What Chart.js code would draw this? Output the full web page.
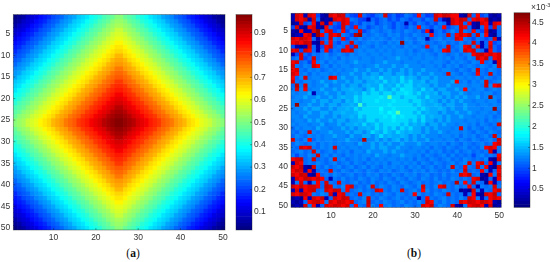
<!DOCTYPE html>
<html>
<head>
<meta charset="utf-8">
<title>Heat maps</title>
<script src="https://cdn.jsdelivr.net/npm/chart.js@4"></script>
<style>
    html, body { margin: 0; padding: 0; background: #fff; }
    body { position: relative; width: 550px; height: 262px; overflow: hidden; }
    canvas { position: absolute; }
    canvas.blurred { filter: blur(0.5px); }
    .caption { position: absolute; top: 247px; font: 11.5px "Liberation Serif", serif; color: #111; transform: translateX(-50%); }
    .exponent { position: absolute; left: 531px; top: 2px; font: 8.5px "Liberation Sans", sans-serif; color: #333; }
    .exponent sup { font-size: 5.5px; vertical-align: 3px; line-height: 0; }
</style>
</head>
<body>
<canvas id="mapA" class="blurred" width="232" height="245" style="left:0;top:0"></canvas>
<canvas id="barA" class="blurred" width="40" height="245" style="left:232px;top:0"></canvas>
<canvas id="mapB" class="blurred" width="232" height="225" style="left:275px;top:0"></canvas>
<canvas id="barB" class="blurred" width="40" height="225" style="left:510px;top:0"></canvas>
<div class="caption" style="left:133px">(<b>a</b>)</div>
<div class="caption" style="left:414px">(<b>b</b>)</div>
<div class="exponent">×10<sup>-3</sup></div>
<script>
const columns = [1,2,3,4,5,6,7,8,9,10, 11,12,13,14,15,16,17,18,19,20, 21,22,23,24,25,26,27,28,29,30, 31,32,33,34,35,36,37,38,39,40, 41,42,43,44,45,46,47,48,49,50];
const rows = columns;

const xTicks = [10, 20, 30, 40, 50];
const yTicks = [5, 10, 15, 20, 25, 30, 35, 40, 45, 50];
const barTicksA = [0.1, 0.2, 0.3, 0.4, 0.5, 0.6, 0.7, 0.8, 0.9];
const barTicksB = [0.5, 1, 1.5, 2, 2.5, 3, 3.5, 4, 4.5];
const rangeA = [0.02, 0.98];
const rangeB = [0.06, 4.73];

// panel a, hundredths
const gridA = [
[2,4,6,8,10,12,14,16,18,20,22,24,26,28,30,32,34,36,38,40,42,44,46,48,50,50,48,46,44,42,40,38,36,34,32,30,28,26,24,22,20,18,16,14,12,10,8,6,4,2],
[4,6,8,10,12,14,16,18,20,22,24,26,28,30,32,34,36,38,40,42,44,46,48,50,52,52,50,48,46,44,42,40,38,36,34,32,30,28,26,24,22,20,18,16,14,12,10,8,6,4],
[6,8,10,12,14,16,18,20,22,24,26,28,30,32,34,36,38,40,42,44,46,48,50,52,54,54,52,50,48,46,44,42,40,38,36,34,32,30,28,26,24,22,20,18,16,14,12,10,8,6],
[8,10,12,14,16,18,20,22,24,26,28,30,32,34,36,38,40,42,44,46,48,50,52,54,56,56,54,52,50,48,46,44,42,40,38,36,34,32,30,28,26,24,22,20,18,16,14,12,10,8],
[10,12,14,16,18,20,22,24,26,28,30,32,34,36,38,40,42,44,46,48,50,52,54,56,58,58,56,54,52,50,48,46,44,42,40,38,36,34,32,30,28,26,24,22,20,18,16,14,12,10],
[12,14,16,18,20,22,24,26,28,30,32,34,36,38,40,42,44,46,48,50,52,54,56,58,60,60,58,56,54,52,50,48,46,44,42,40,38,36,34,32,30,28,26,24,22,20,18,16,14,12],
[14,16,18,20,22,24,26,28,30,32,34,36,38,40,42,44,46,48,50,52,54,56,58,60,62,62,60,58,56,54,52,50,48,46,44,42,40,38,36,34,32,30,28,26,24,22,20,18,16,14],
[16,18,20,22,24,26,28,30,32,34,36,38,40,42,44,46,48,50,52,54,56,58,60,62,64,64,62,60,58,56,54,52,50,48,46,44,42,40,38,36,34,32,30,28,26,24,22,20,18,16],
[18,20,22,24,26,28,30,32,34,36,38,40,42,44,46,48,50,52,54,56,58,60,62,64,66,66,64,62,60,58,56,54,52,50,48,46,44,42,40,38,36,34,32,30,28,26,24,22,20,18],
[20,22,24,26,28,30,32,34,36,38,40,42,44,46,48,50,52,54,56,58,60,62,64,66,68,68,66,64,62,60,58,56,54,52,50,48,46,44,42,40,38,36,34,32,30,28,26,24,22,20],
[22,24,26,28,30,32,34,36,38,40,42,44,46,48,50,52,54,56,58,60,62,64,66,68,70,70,68,66,64,62,60,58,56,54,52,50,48,46,44,42,40,38,36,34,32,30,28,26,24,22],
[24,26,28,30,32,34,36,38,40,42,44,46,48,50,52,54,56,58,60,62,64,66,68,70,72,72,70,68,66,64,62,60,58,56,54,52,50,48,46,44,42,40,38,36,34,32,30,28,26,24],
[26,28,30,32,34,36,38,40,42,44,46,48,50,52,54,56,58,60,62,64,66,68,70,72,74,74,72,70,68,66,64,62,60,58,56,54,52,50,48,46,44,42,40,38,36,34,32,30,28,26],
[28,30,32,34,36,38,40,42,44,46,48,50,52,54,56,58,60,62,64,66,68,70,72,74,76,76,74,72,70,68,66,64,62,60,58,56,54,52,50,48,46,44,42,40,38,36,34,32,30,28],
[30,32,34,36,38,40,42,44,46,48,50,52,54,56,58,60,62,64,66,68,70,72,74,76,78,78,76,74,72,70,68,66,64,62,60,58,56,54,52,50,48,46,44,42,40,38,36,34,32,30],
[32,34,36,38,40,42,44,46,48,50,52,54,56,58,60,62,64,66,68,70,72,74,76,78,80,80,78,76,74,72,70,68,66,64,62,60,58,56,54,52,50,48,46,44,42,40,38,36,34,32],
[34,36,38,40,42,44,46,48,50,52,54,56,58,60,62,64,66,68,70,72,74,76,78,80,82,82,80,78,76,74,72,70,68,66,64,62,60,58,56,54,52,50,48,46,44,42,40,38,36,34],
[36,38,40,42,44,46,48,50,52,54,56,58,60,62,64,66,68,70,72,74,76,78,80,82,84,84,82,80,78,76,74,72,70,68,66,64,62,60,58,56,54,52,50,48,46,44,42,40,38,36],
[38,40,42,44,46,48,50,52,54,56,58,60,62,64,66,68,70,72,74,76,78,80,82,84,86,86,84,82,80,78,76,74,72,70,68,66,64,62,60,58,56,54,52,50,48,46,44,42,40,38],
[40,42,44,46,48,50,52,54,56,58,60,62,64,66,68,70,72,74,76,78,80,82,84,86,88,88,86,84,82,80,78,76,74,72,70,68,66,64,62,60,58,56,54,52,50,48,46,44,42,40],
[42,44,46,48,50,52,54,56,58,60,62,64,66,68,70,72,74,76,78,80,82,84,86,88,90,90,88,86,84,82,80,78,76,74,72,70,68,66,64,62,60,58,56,54,52,50,48,46,44,42],
[44,46,48,50,52,54,56,58,60,62,64,66,68,70,72,74,76,78,80,82,84,86,88,90,92,92,90,88,86,84,82,80,78,76,74,72,70,68,66,64,62,60,58,56,54,52,50,48,46,44],
[46,48,50,52,54,56,58,60,62,64,66,68,70,72,74,76,78,80,82,84,86,88,90,92,94,94,92,90,88,86,84,82,80,78,76,74,72,70,68,66,64,62,60,58,56,54,52,50,48,46],
[48,50,52,54,56,58,60,62,64,66,68,70,72,74,76,78,80,82,84,86,88,90,92,94,96,96,94,92,90,88,86,84,82,80,78,76,74,72,70,68,66,64,62,60,58,56,54,52,50,48],
[50,52,54,56,58,60,62,64,66,68,70,72,74,76,78,80,82,84,86,88,90,92,94,96,98,98,96,94,92,90,88,86,84,82,80,78,76,74,72,70,68,66,64,62,60,58,56,54,52,50],
[50,52,54,56,58,60,62,64,66,68,70,72,74,76,78,80,82,84,86,88,90,92,94,96,98,98,96,94,92,90,88,86,84,82,80,78,76,74,72,70,68,66,64,62,60,58,56,54,52,50],
[48,50,52,54,56,58,60,62,64,66,68,70,72,74,76,78,80,82,84,86,88,90,92,94,96,96,94,92,90,88,86,84,82,80,78,76,74,72,70,68,66,64,62,60,58,56,54,52,50,48],
[46,48,50,52,54,56,58,60,62,64,66,68,70,72,74,76,78,80,82,84,86,88,90,92,94,94,92,90,88,86,84,82,80,78,76,74,72,70,68,66,64,62,60,58,56,54,52,50,48,46],
[44,46,48,50,52,54,56,58,60,62,64,66,68,70,72,74,76,78,80,82,84,86,88,90,92,92,90,88,86,84,82,80,78,76,74,72,70,68,66,64,62,60,58,56,54,52,50,48,46,44],
[42,44,46,48,50,52,54,56,58,60,62,64,66,68,70,72,74,76,78,80,82,84,86,88,90,90,88,86,84,82,80,78,76,74,72,70,68,66,64,62,60,58,56,54,52,50,48,46,44,42],
[40,42,44,46,48,50,52,54,56,58,60,62,64,66,68,70,72,74,76,78,80,82,84,86,88,88,86,84,82,80,78,76,74,72,70,68,66,64,62,60,58,56,54,52,50,48,46,44,42,40],
[38,40,42,44,46,48,50,52,54,56,58,60,62,64,66,68,70,72,74,76,78,80,82,84,86,86,84,82,80,78,76,74,72,70,68,66,64,62,60,58,56,54,52,50,48,46,44,42,40,38],
[36,38,40,42,44,46,48,50,52,54,56,58,60,62,64,66,68,70,72,74,76,78,80,82,84,84,82,80,78,76,74,72,70,68,66,64,62,60,58,56,54,52,50,48,46,44,42,40,38,36],
[34,36,38,40,42,44,46,48,50,52,54,56,58,60,62,64,66,68,70,72,74,76,78,80,82,82,80,78,76,74,72,70,68,66,64,62,60,58,56,54,52,50,48,46,44,42,40,38,36,34],
[32,34,36,38,40,42,44,46,48,50,52,54,56,58,60,62,64,66,68,70,72,74,76,78,80,80,78,76,74,72,70,68,66,64,62,60,58,56,54,52,50,48,46,44,42,40,38,36,34,32],
[30,32,34,36,38,40,42,44,46,48,50,52,54,56,58,60,62,64,66,68,70,72,74,76,78,78,76,74,72,70,68,66,64,62,60,58,56,54,52,50,48,46,44,42,40,38,36,34,32,30],
[28,30,32,34,36,38,40,42,44,46,48,50,52,54,56,58,60,62,64,66,68,70,72,74,76,76,74,72,70,68,66,64,62,60,58,56,54,52,50,48,46,44,42,40,38,36,34,32,30,28],
[26,28,30,32,34,36,38,40,42,44,46,48,50,52,54,56,58,60,62,64,66,68,70,72,74,74,72,70,68,66,64,62,60,58,56,54,52,50,48,46,44,42,40,38,36,34,32,30,28,26],
[24,26,28,30,32,34,36,38,40,42,44,46,48,50,52,54,56,58,60,62,64,66,68,70,72,72,70,68,66,64,62,60,58,56,54,52,50,48,46,44,42,40,38,36,34,32,30,28,26,24],
[22,24,26,28,30,32,34,36,38,40,42,44,46,48,50,52,54,56,58,60,62,64,66,68,70,70,68,66,64,62,60,58,56,54,52,50,48,46,44,42,40,38,36,34,32,30,28,26,24,22],
[20,22,24,26,28,30,32,34,36,38,40,42,44,46,48,50,52,54,56,58,60,62,64,66,68,68,66,64,62,60,58,56,54,52,50,48,46,44,42,40,38,36,34,32,30,28,26,24,22,20],
[18,20,22,24,26,28,30,32,34,36,38,40,42,44,46,48,50,52,54,56,58,60,62,64,66,66,64,62,60,58,56,54,52,50,48,46,44,42,40,38,36,34,32,30,28,26,24,22,20,18],
[16,18,20,22,24,26,28,30,32,34,36,38,40,42,44,46,48,50,52,54,56,58,60,62,64,64,62,60,58,56,54,52,50,48,46,44,42,40,38,36,34,32,30,28,26,24,22,20,18,16],
[14,16,18,20,22,24,26,28,30,32,34,36,38,40,42,44,46,48,50,52,54,56,58,60,62,62,60,58,56,54,52,50,48,46,44,42,40,38,36,34,32,30,28,26,24,22,20,18,16,14],
[12,14,16,18,20,22,24,26,28,30,32,34,36,38,40,42,44,46,48,50,52,54,56,58,60,60,58,56,54,52,50,48,46,44,42,40,38,36,34,32,30,28,26,24,22,20,18,16,14,12],
[10,12,14,16,18,20,22,24,26,28,30,32,34,36,38,40,42,44,46,48,50,52,54,56,58,58,56,54,52,50,48,46,44,42,40,38,36,34,32,30,28,26,24,22,20,18,16,14,12,10],
[8,10,12,14,16,18,20,22,24,26,28,30,32,34,36,38,40,42,44,46,48,50,52,54,56,56,54,52,50,48,46,44,42,40,38,36,34,32,30,28,26,24,22,20,18,16,14,12,10,8],
[6,8,10,12,14,16,18,20,22,24,26,28,30,32,34,36,38,40,42,44,46,48,50,52,54,54,52,50,48,46,44,42,40,38,36,34,32,30,28,26,24,22,20,18,16,14,12,10,8,6],
[4,6,8,10,12,14,16,18,20,22,24,26,28,30,32,34,36,38,40,42,44,46,48,50,52,52,50,48,46,44,42,40,38,36,34,32,30,28,26,24,22,20,18,16,14,12,10,8,6,4],
[2,4,6,8,10,12,14,16,18,20,22,24,26,28,30,32,34,36,38,40,42,44,46,48,50,50,48,46,44,42,40,38,36,34,32,30,28,26,24,22,20,18,16,14,12,10,8,6,4,2]
];

// panel b, tenths of 1e-3
const gridB = [
[3,43,42,3,43,42,10,3,2,43, 42,44,43,11,10,9,43,11,10,9, 11,12,43,10,11,9,10,12,11,10, 42,11,9,10,43,42,44,43,42,42, 3,2,43,11,42,10,11,3,2,3],
[3,43,42,44,3,43,11,2,3,2, 43,42,43,42,12,11,10,9,3,11, 10,11,12,10,11,10,12,11,10,11, 11,10,12,11,43,10,3,2,43,42, 44,43,11,42,43,42,44,2,3,2],
[2,3,43,10,11,42,3,43,3,42, 11,10,43,42,10,11,10,12,11,12, 10,11,12,11,10,12,11,3,11,10, 12,11,10,11,10,12,11,3,43,42, 43,11,42,3,2,43,42,3,43,42],
[10,43,3,2,42,43,3,2,42,11, 10,9,43,11,10,42,11,12,10,11, 12,11,13,11,10,12,11,10,12,11, 42,12,11,10,12,11,42,10,11,12, 43,42,11,3,2,11,42,10,43,11],
[3,2,42,3,4,43,46,11,42,43, 10,11,42,10,12,11,43,10,11,13, 12,11,12,13,11,12,11,13,12,11, 12,10,42,3,11,12,10,11,13,11, 43,12,11,42,11,10,43,2,3,11],
[2,3,4,42,43,3,46,42,11,43, 42,44,12,11,10,45,46,12,11,12, 13,12,11,13,12,13,11,12,11,13, 12,11,12,42,11,12,11,43,11,42, 43,42,44,11,43,12,42,3,2,11],
[43,42,44,43,42,11,3,10,11,43, 12,11,42,10,12,11,13,11,12,13, 12,13,12,11,13,12,11,13,12,11, 13,12,3,11,12,13,11,12,11,43, 42,12,11,10,12,11,10,11,43,3],
[42,43,42,44,43,3,2,43,11,42, 11,10,12,11,43,12,11,12,13,12, 13,12,11,13,12,13,46,12,13,11, 12,13,11,12,11,12,13,11,12,11, 13,11,12,43,11,3,11,42,10,11],
[10,3,2,3,43,11,3,10,42,43, 11,12,11,42,10,43,12,13,12,11, 13,12,13,12,13,12,11,13,12,13, 12,11,42,12,13,11,12,43,11,12, 13,42,43,12,42,3,11,43,11,10],
[42,43,10,43,42,11,3,11,42,10, 12,11,43,42,44,12,13,12,13,13, 12,13,12,13,12,13,13,12,13,11, 12,13,12,11,13,12,42,43,12,11, 13,43,42,43,12,11,3,42,11,10],
[3,10,43,11,10,12,11,12,13,11, 12,13,12,11,13,12,13,13,12,13, 13,12,13,13,12,13,13,12,13,12, 13,12,13,12,11,13,12,11,12,13, 11,12,13,42,43,44,42,43,42,43],
[11,12,43,10,11,43,11,12,13,12, 13,11,13,12,13,13,12,13,13,12, 13,13,12,13,13,14,13,13,12,13, 13,12,13,13,12,13,12,13,11,13, 12,11,13,12,43,42,44,11,42,43],
[42,43,11,12,10,42,12,13,11,13, 12,13,13,12,13,14,13,13,13,12, 13,13,14,13,13,13,12,13,13,13, 12,13,13,12,13,13,12,11,13,12, 13,12,11,13,12,42,11,12,3,43],
[43,12,11,13,12,43,42,12,13,11, 13,12,13,13,12,13,13,12,13,13, 14,13,13,13,14,13,13,14,13,13, 13,12,13,13,12,13,11,13,12,13, 11,12,13,12,11,13,12,11,13,43],
[42,43,12,11,13,12,13,11,12,13, 12,13,12,13,13,14,13,13,14,13, 13,14,13,14,13,13,14,13,14,13, 13,14,13,13,13,12,13,13,12,11, 13,12,11,13,43,12,11,13,12,11],
[43,42,12,13,11,13,12,13,13,12, 13,12,13,13,14,13,13,14,13,14, 14,13,14,14,13,14,14,13,14,13, 14,13,13,14,13,13,12,43,13,12, 11,13,12,11,42,12,11,43,12,11],
[42,11,13,43,12,13,13,12,13,43, 42,13,14,13,13,14,13,14,14,15, 14,16,14,14,15,14,16,14,15,14, 13,14,14,13,14,13,13,13,12,13, 13,12,13,12,13,11,13,12,11,12],
[43,12,11,13,13,12,13,14,13,13, 14,13,13,14,13,14,14,13,14,14, 15,14,16,14,15,14,16,15,16,14, 14,15,13,14,14,13,13,13,14,42, 12,13,11,13,12,13,43,11,12,13],
[11,45,12,43,13,12,13,13,14,12, 13,13,14,13,14,14,13,14,15,14, 14,16,14,15,14,16,15,16,16,14, 15,14,14,13,14,13,13,14,13,13, 13,13,12,13,13,12,43,13,42,43],
[12,43,13,42,12,13,13,14,13,13, 14,13,14,14,15,14,14,13,15,16, 14,16,15,14,16,15,17,16,16,15, 14,16,14,15,13,14,14,13,13,14, 13,42,13,12,13,13,11,12,13,12],
[13,12,13,13,14,3,13,13,14,13, 13,14,13,14,14,15,14,16,15,16, 16,15,16,16,15,16,16,17,16,15, 16,14,15,14,15,13,14,14,13,13, 14,13,12,13,13,12,13,13,11,12],
[12,13,13,14,13,13,14,13,13,14, 13,14,15,14,14,16,15,16,16,16, 16,17,16,22,16,16,15,16,16,16, 15,14,16,14,14,14,13,14,13,14, 13,14,13,13,14,12,13,46,13,12],
[13,13,12,13,13,14,13,14,14,13, 14,14,13,15,14,16,15,16,16,16, 17,16,16,16,17,16,16,16,15,16, 16,15,14,15,14,13,14,13,14,13, 14,13,13,12,13,13,12,13,13,11],
[13,46,13,13,14,13,13,14,13,14, 14,13,14,14,15,14,21,15,16,16, 16,16,16,17,16,16,16,16,16,15, 16,15,14,14,15,14,13,14,14,13, 13,14,13,13,12,13,13,12,13,12],
[12,13,13,14,13,14,14,13,13,14, 13,14,14,15,14,16,15,16,16,16, 16,18,16,16,17,16,16,16,16,16, 15,16,15,14,14,15,14,13,14,13, 13,14,13,13,13,12,13,13,46,12],
[13,12,13,13,14,13,13,14,14,13, 14,14,15,14,14,15,16,16,16,16, 16,17,16,18,17,22,16,16,16,15, 16,14,15,14,14,13,14,13,13,14, 13,13,14,13,12,13,13,12,13,11],
[13,13,12,14,13,13,13,14,13,13, 14,13,14,14,15,14,16,15,16,16, 16,16,17,16,18,16,17,16,16,16, 15,16,14,15,14,14,13,14,13,13, 14,13,13,12,13,13,12,13,11,12],
[12,13,13,12,14,13,14,13,13,14, 13,14,14,13,14,14,15,14,16,16, 15,16,16,16,17,16,16,16,15,16, 14,16,14,14,13,14,13,14,13,13, 13,12,13,13,12,13,11,13,12,13],
[13,12,13,13,12,13,13,14,12,13, 13,14,13,14,14,15,14,16,14,15, 16,15,16,16,16,16,15,16,14,15, 14,15,13,14,14,13,14,13,13,12, 13,13,12,13,11,13,12,11,12,43],
[11,13,12,13,13,12,14,13,13,12, 13,13,14,13,14,13,14,14,15,14, 16,15,16,15,16,14,16,15,16,14, 14,13,14,13,14,13,13,13,12,13, 43,13,11,13,12,11,13,12,11,12],
[12,11,13,12,43,13,12,13,13,14, 13,13,13,14,13,14,14,13,14,16, 15,14,16,15,14,16,15,14,15,14, 14,13,14,13,13,14,13,12,13,13, 12,13,12,11,13,12,11,13,12,11],
[11,13,12,11,13,12,13,12,13,13, 14,13,13,12,14,13,13,14,14,13, 14,16,14,15,14,14,15,14,13,14, 13,14,13,13,13,12,13,13,12,13, 11,13,12,13,11,12,13,11,43,12],
[43,12,11,13,42,11,13,12,13,13, 12,13,13,14,13,13,12,45,13,13, 14,13,14,13,14,15,13,14,13,14, 13,13,14,12,13,13,12,13,13,11, 13,12,11,13,12,11,12,13,11,43],
[11,13,12,11,12,13,11,13,12,13, 12,13,12,13,13,12,14,13,13,14, 13,14,13,14,13,13,14,13,13,13, 14,13,12,13,13,12,13,11,13,12, 11,13,12,11,12,13,11,12,42,43],
[12,11,43,42,43,12,11,13,12,13, 43,12,13,12,13,13,12,13,13,14, 13,14,14,13,13,14,13,13,12,13, 13,12,13,11,13,12,11,13,12,11, 12,13,11,12,11,13,42,43,42,12],
[11,12,13,11,12,43,13,11,12,13, 11,13,12,13,11,13,13,12,14,13, 13,13,14,13,14,13,13,12,13,13, 12,13,11,13,12,13,11,12,11,13, 11,12,13,11,12,11,12,43,3,12],
[12,10,12,11,13,12,43,12,13,11, 13,12,11,13,12,13,12,13,13,12, 14,13,13,12,13,13,14,13,13,12, 13,11,13,12,11,12,13,11,13,11, 12,11,12,10,12,13,11,12,11,42],
[42,43,44,11,12,43,11,12,11,13, 43,12,13,11,12,13,12,13,11,13, 12,13,12,13,13,12,13,12,13,11, 13,12,11,13,12,11,12,13,11,12, 11,13,12,11,12,11,13,3,2,43],
[3,43,42,11,12,11,13,12,11,12, 13,11,12,13,11,13,12,11,13,12, 13,12,13,11,13,13,12,13,12,13, 11,13,12,11,13,12,11,12,13,11, 12,13,43,12,42,43,11,42,3,12],
[43,42,44,3,2,43,12,11,13,11, 12,13,11,12,13,11,12,13,11,13, 12,11,13,12,13,12,13,11,13,12, 13,11,12,13,11,12,11,13,43,12, 11,42,12,11,43,12,42,3,2,43],
[42,44,43,3,42,3,11,12,11,43, 12,11,13,12,11,13,12,11,13,12, 11,13,12,13,11,12,13,12,11,13, 12,13,11,13,12,11,12,11,13,11, 12,43,11,12,11,42,12,3,11,42],
[43,42,44,43,3,2,42,11,12,11, 13,12,11,12,13,11,12,11,13,12, 13,11,12,11,13,12,11,13,12,13, 11,12,13,11,12,11,13,11,12,12, 43,42,44,11,12,3,2,42,12,43],
[3,43,42,44,43,42,43,42,11,3, 12,11,13,11,12,11,13,12,11,13, 12,11,13,12,11,13,12,11,13,12, 11,13,12,11,13,11,12,11,13,12, 11,12,11,42,43,2,3,11,3,42],
[3,12,43,11,3,12,42,11,43,12, 11,43,12,11,12,13,11,12,11,13, 11,12,11,13,12,11,13,12,11,12, 13,11,12,11,12,13,11,12,11,45, 12,42,11,43,12,11,2,42,3,11],
[43,42,44,42,43,43,42,11,44,43, 12,11,13,42,43,11,12,11,13,43, 11,13,12,11,13,12,11,13,12,11, 13,43,12,11,13,42,43,12,11,13, 11,12,42,11,3,12,11,12,43,12],
[3,43,3,42,43,44,11,12,43,42, 44,43,12,42,11,12,13,11,12,11, 43,42,12,11,13,12,43,11,12,13, 11,42,13,11,12,11,13,12,11,12, 2,3,2,43,12,3,12,11,42,43],
[43,42,44,43,42,12,11,13,12,43, 3,42,43,11,12,11,43,12,13,11, 12,11,13,12,11,13,12,11,12,42, 13,11,12,11,13,12,11,43,12,11, 12,3,11,42,3,2,43,42,44,11],
[2,3,2,42,3,43,42,44,3,11, 43,42,44,43,11,12,11,13,43,12, 11,13,12,11,12,13,11,12,11,12, 3,11,42,12,11,12,13,11,12,11, 13,11,43,42,12,3,11,42,43,42],
[3,2,3,11,42,43,44,42,12,43, 42,44,43,42,43,11,12,13,44,11, 12,11,13,12,11,12,13,11,12,11, 13,11,43,42,12,11,13,11,12,11, 43,42,44,43,42,44,43,42,3,2],
[2,3,2,43,12,42,3,11,43,42, 44,43,42,43,11,42,12,11,43,13, 11,42,12,13,11,12,11,13,12,11, 12,43,42,44,11,13,12,11,43,3, 2,12,42,43,44,42,3,43,2,3]
];

const tickFont = { family: '"Liberation Sans", sans-serif', size: 8.5 };
const tickColor = '#333333';

function jet(value, range) {
    const level = Math.max(0, Math.min(63, Math.floor((value - range[0]) / (range[1] - range[0]) * 64)));
    const t = (level + 0.5) / 64;
    const part = (c) => Math.round(255 * Math.max(0, Math.min(1, 1.5 - Math.abs(4 * t - c))));
    return `rgb(${part(3)},${part(2)},${part(1)})`;
}

// frame and short inward ticks, like the matlab axes
const frameTicks = {
    id: 'frameTicks',
    afterDatasetsDraw(chart) {
        const { ctx, chartArea: a, scales } = chart;
        ctx.save();
        ctx.strokeStyle = 'rgba(30,30,30,0.55)';
        ctx.lineWidth = 0.7;
        ctx.strokeRect(a.left, a.top, a.right - a.left, a.bottom - a.top);
        ctx.beginPath();
        if (scales.x.options.display) {
            scales.x.ticks.forEach((tick, i) => {
                const px = scales.x.getPixelForTick(i);
                ctx.moveTo(px, a.bottom);
                ctx.lineTo(px, a.bottom - 2);
            });
        }
        const onRight = scales.y.position === 'right';
        scales.y.ticks.forEach((tick, i) => {
            const py = scales.y.getPixelForTick(i);
            ctx.moveTo(onRight ? a.right : a.left, py);
            ctx.lineTo(onRight ? a.right - 2 : a.left + 2, py);
        });
        ctx.stroke();
        ctx.restore();
    }
};

function drawMap(id, grid, unit, range, box) {
    new Chart(document.getElementById(id), {
        type: 'bar',
        data: {
            labels: columns,
            datasets: rows.map((row, i) => ({
                data: columns.map(() => [row - 0.5, row + 0.5]),
                backgroundColor: grid[i].map((v) => jet(v * unit, range)),
                borderWidth: 0
            }))
        },
        options: {
            responsive: false,
            animation: false,
            events: [],
            layout: { padding: { top: box.top, right: box.right } },
            datasets: { bar: { grouped: false, barPercentage: 1, categoryPercentage: 1 } },
            plugins: { legend: { display: false }, tooltip: { enabled: false } },
            scales: {
                x: {
                    grid: { display: false, drawTicks: false },
                    border: { display: false },
                    afterFit: (scale) => { scale.height = box.bottom; },
                    afterBuildTicks: (scale) => { scale.ticks = xTicks.map((v) => ({ value: v - 1 })); },
                    ticks: { font: tickFont, color: tickColor, padding: 3, maxRotation: 0, autoSkip: false }
                },
                y: {
                    type: 'linear',
                    reverse: true,
                    min: 0.5,
                    max: 50.5,
                    grid: { display: false, drawTicks: false },
                    border: { display: false },
                    afterFit: (scale) => { scale.width = box.left; },
                    afterBuildTicks: (scale) => { scale.ticks = yTicks.map((v) => ({ value: v })); },
                    ticks: { font: tickFont, color: tickColor, padding: 3 }
                }
            }
        },
        plugins: [frameTicks]
    });
}

function drawBar(id, range, ticks, box) {
    const step = (range[1] - range[0]) / 64;
    const levels = Array.from({ length: 64 }, (_, i) => range[0] + i * step);
    new Chart(document.getElementById(id), {
        type: 'bar',
        data: {
            labels: [''],
            datasets: levels.map((lo) => ({
                data: [[lo, lo + step]],
                backgroundColor: jet(lo + step / 2, range),
                borderWidth: 0
            }))
        },
        options: {
            responsive: false,
            animation: false,
            events: [],
            layout: { padding: { top: box.top, left: box.left, bottom: box.bottom } },
            datasets: { bar: { grouped: false, barPercentage: 1, categoryPercentage: 1 } },
            plugins: { legend: { display: false }, tooltip: { enabled: false } },
            scales: {
                x: { display: false },
                y: {
                    position: 'right',
                    min: range[0],
                    max: range[1],
                    grid: { display: false, drawTicks: false },
                    border: { display: false },
                    afterFit: (scale) => { scale.width = box.right; },
                    afterBuildTicks: (scale) => { scale.ticks = ticks.map((v) => ({ value: v })); },
                    ticks: { font: tickFont, color: tickColor, padding: 2, callback: (v) => String(v) }
                }
            }
        },
        plugins: [frameTicks]
    });
}

drawMap('mapA', gridA, 0.01, rangeA, { left: 13.3, right: 7, top: 14.5, bottom: 15 });
drawBar('barA', rangeA, barTicksA, { left: 4, right: 20, top: 14.5, bottom: 15 });
drawMap('mapB', gridB, 0.1, rangeB, { left: 16, right: 5.3, top: 13.3, bottom: 17.5 });
drawBar('barB', rangeB, barTicksB, { left: 4, right: 20, top: 12.7, bottom: 17.5 });
</script>
</body>
</html>
